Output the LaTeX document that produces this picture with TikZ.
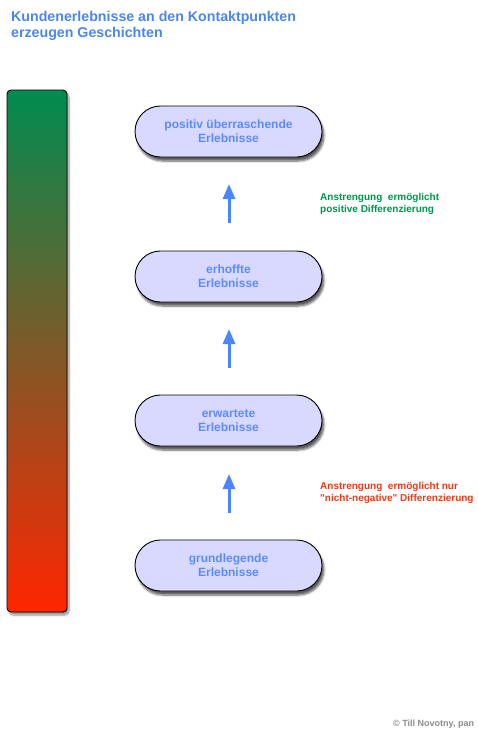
\documentclass[tikz,border=0pt]{standalone}
\usepackage{fontspec}
\setmainfont{Liberation Sans}
\usetikzlibrary{shadows.blur,arrows.meta}
\definecolor{titleblue}{HTML}{4A86F2}
\definecolor{pillfill}{HTML}{D9D9FF}
\definecolor{pilltext}{HTML}{5A8CFF}
\definecolor{arrowblue}{HTML}{4A86FF}
\definecolor{gtext}{HTML}{00964B}
\definecolor{rtext}{HTML}{FF3310}
\definecolor{bartop}{HTML}{008C50}
\definecolor{barbot}{HTML}{FF2600}
\tikzset{
  pill/.style={draw=black, line width=0.9pt, fill=pillfill, rounded corners=25.5pt,
    minimum width=187pt, minimum height=51pt, align=center, text=pilltext,
    font=\bfseries\fontsize{12}{14}\selectfont, inner sep=0pt,
    blur shadow={shadow xshift=2pt, shadow yshift=-4pt, shadow blur steps=6, shadow opacity=65}},
  uparrow/.style={draw=arrowblue, line width=3pt, -{Triangle[width=12pt,length=15pt]}},
  note/.style={anchor=north west, align=left, font=\bfseries\fontsize{10}{12}\selectfont, inner sep=0pt}
}
\begin{document}
\begin{tikzpicture}[x=1pt,y=-1pt]
\useasboundingbox (0,0) rectangle (478,731);
\node[anchor=north west, inner sep=0pt, align=left, text=titleblue,
  font=\bfseries\fontsize{14.2}{16}\selectfont] (title) at (11,11)
  {Kundenerlebnisse an den Kontaktpunkten\\erzeugen Geschichten};
% gradient bar
\path[blur shadow={shadow xshift=2pt, shadow yshift=-3pt, shadow blur steps=6, shadow opacity=45}]
  [rounded corners=4pt] (7,90) rectangle (67,612);
\shade[top color=bartop, bottom color=barbot, rounded corners=4pt]
  (7,90) rectangle (67,612);
\draw[line width=0.9pt, rounded corners=4pt] (7,90) rectangle (67,612);
% pills
\node[pill] (p1) at (228.5,131.5) {positiv überraschende\\Erlebnisse};
\node[pill] (p2) at (228.5,276.5) {erhoffte\\Erlebnisse};
\node[pill] (p3) at (228.5,420.5) {erwartete\\Erlebnisse};
\node[pill] (p4) at (228.5,565.5) {grundlegende\\Erlebnisse};
% arrows
\coordinate (a1s) at (229,223); \coordinate (a1e) at (229,184);
\coordinate (a2s) at (229,368); \coordinate (a2e) at (229,329);
\coordinate (a3s) at (229,513); \coordinate (a3e) at (229,474);
\draw[uparrow] (a1s) -- (a1e);
\draw[uparrow] (a2s) -- (a2e);
\draw[uparrow] (a3s) -- (a3e);
% notes
\node[note, text=gtext] (n1) at (320,193) {Anstrengung\ \ ermöglicht\\positive Differenzierung};
\node[note, text=rtext] (n2) at (320,482) {Anstrengung\ \ ermöglicht nur\\\textquotedbl nicht-negative\textquotedbl{} Differenzierung};
\node[anchor=north west, inner sep=0pt, text=black!45, font=\bfseries\fontsize{9}{10}\selectfont] (copy) at (393,720) {© Till Novotny, pan};
\end{tikzpicture}
\end{document}
